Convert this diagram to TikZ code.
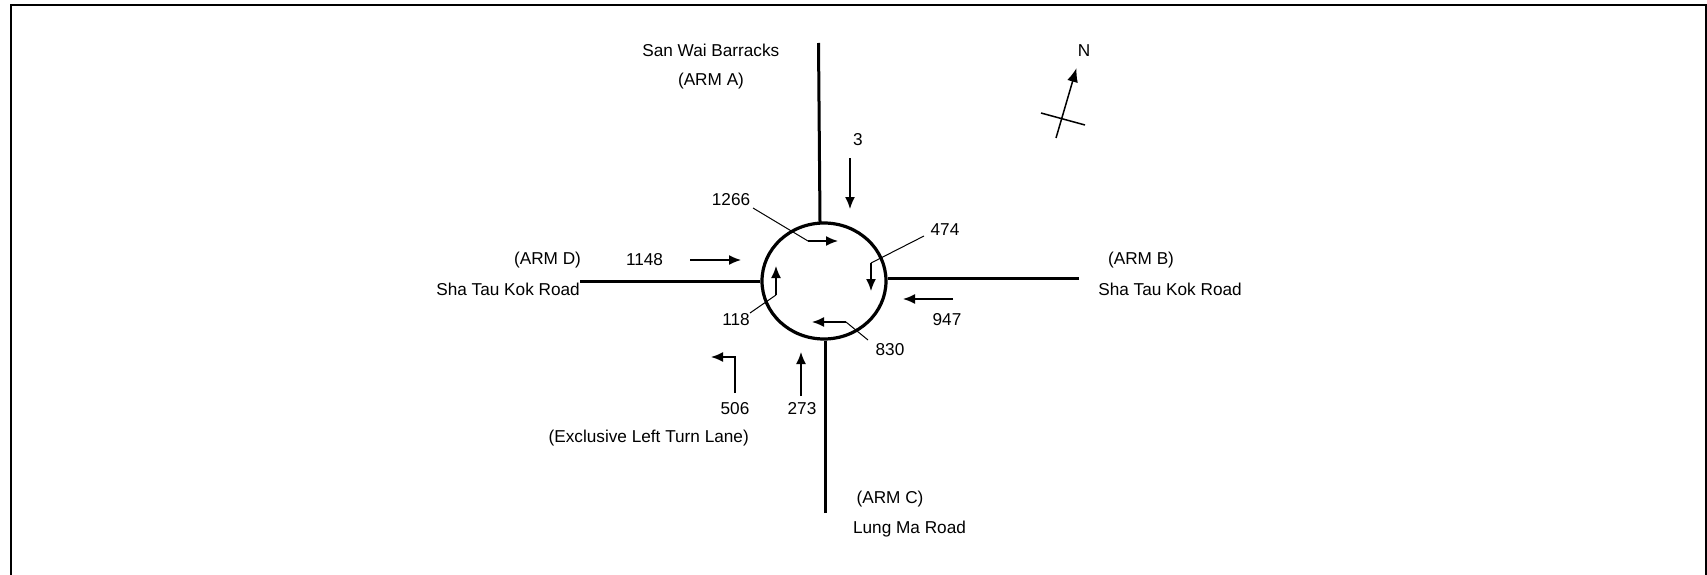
\documentclass[tikz,border=0pt]{standalone}
\usepackage{fontspec}
\setmainfont{Liberation Sans}
\usetikzlibrary{arrows.meta, calc, shapes.geometric}

\tikzset{
    lbl/.style={font=\fontsize{17.2}{19}\selectfont, inner sep=0pt},
    road/.style={line width=3pt},
    flow/.style={-{Latex[length=12pt,width=10pt]}, line width=1.5pt},
    leader/.style={line width=1pt}
}

\begin{document}
\begin{tikzpicture}[x=1pt, y=-1pt]

\useasboundingbox (0,0) rectangle (1707,575);
\draw[line width=2.2pt] (11,575) -- (11,5) -- (1706,5) -- (1706,575);

% Rotonda
\node[ellipse, draw, line width=3.2pt, minimum width=124pt, minimum height=116pt, inner sep=0pt] (rbt) at (824,281) {};

% Brazos
\coordinate (armAend) at (818.5,43);
\coordinate (armBend) at (1079,278);
\coordinate (armCend) at (825,513);
\coordinate (armDend) at (580,281);
\draw[road] (armAend) -- (820,222);
\draw[road] (armBend) -- (armBend -| rbt.east);
\draw[road] (armCend) -- (armCend |- rbt.south);
\draw[road] (armDend) -- (rbt.west);

% Textos de brazos
\node[lbl, anchor=east] (sanwai) at (779.5,50) {San Wai Barracks};
\node[lbl] (armA) at (711,81) {(ARM A)};
\node[lbl] (armB) at (1141,260) {(ARM B)};
\node[lbl] (shaB) at (1170,289.5) {Sha Tau Kok Road};
\node[lbl] (armC) at (890,499) {(ARM C)};
\node[lbl] (lungma) at (909.5,529) {Lung Ma Road};
\node[lbl] (armD) at (547.5,260) {(ARM D)};
\node[lbl, anchor=east] (shaD) at (580,289.5) {Sha Tau Kok Road};
\node[lbl, anchor=east] (exclusive) at (749,438.5) {(Exclusive Left Turn Lane)};

% Flujos de entrada
\node[lbl] (n3) at (858,140) {3};
\node[lbl] (n1148) at (644.5,260) {1148};
\node[lbl] (n947) at (947,320) {947};
\node[lbl] (n273) at (802,409) {273};
\node[lbl] (n506) at (735,409) {506};
\draw[flow] (850,158) -- (850,209);
\draw[flow] (690,260) -- (741,260);
\draw[flow] (953,299) -- (903,299);
\draw[flow] (801,396) -- (801,352);
\draw[flow] (735,393) -- (735,357) -- (711,357);

% Flujos en la rotonda
\node[lbl] (n1266) at (731,200) {1266};
\node[lbl] (n474) at (945,230) {474};
\node[lbl] (n118) at (736,320) {118};
\node[lbl] (n830) at (890,350) {830};
\draw[leader] (753,208) -- (808,241);
\draw[flow] (808,241) -- (838,241);
\draw[leader] (924,236) -- (871,263);
\draw[flow] (871,263) -- (871,291);
\draw[leader] (750,313) -- (776,295);
\draw[flow] (776,295) -- (776,266);
\draw[leader] (868,340) -- (846,322);
\draw[flow] (846,322) -- (812,322);

% Norte
\node[lbl] (north) at (1084,51) {N};
\draw[flow, -{Latex[length=14pt,width=11pt]}] (1056,138) -- (1076.5,68);
\draw[line width=1.5pt] (1041,113) -- (1085,125);

\end{tikzpicture}
\end{document}
